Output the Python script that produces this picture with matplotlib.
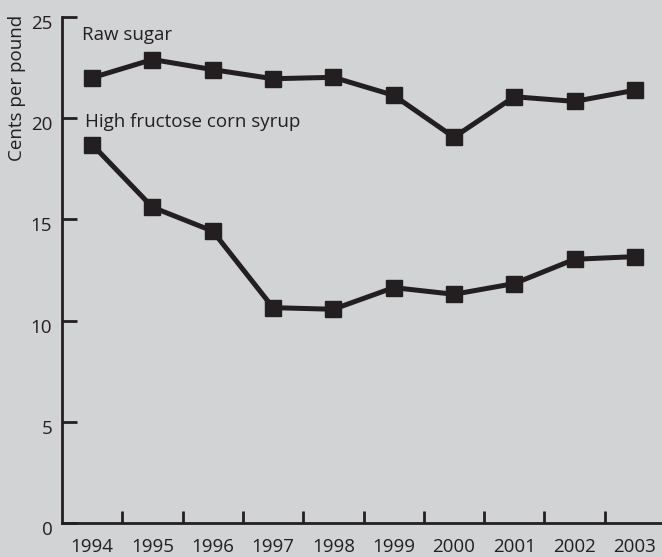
import numpy as np
import matplotlib.pyplot as plt
import matplotlib.transforms as mtransforms

years = ['1994', '1995', '1996', '1997', '1998', '1999', '2000', '2001', '2002', '2003']
raw_sugar = [22.0, 22.9, 22.4, 21.95, 22.02, 21.13, 19.06, 21.06, 20.83, 21.38]
hfcs = [18.7, 15.6, 14.42, 10.64, 10.56, 11.63, 11.3, 11.83, 13.03, 13.16]
y_ticks = [0, 5, 10, 15, 20, 25]

bg = '#d1d3d4'
ink = '#231f20'
plt.rcParams['font.family'] = ['Open Sans', 'DejaVu Sans']

fig = plt.figure(figsize=(6.62, 5.57), dpi=100, facecolor=bg)
ax = fig.add_axes([62 / 662, 34 / 557, 600 / 662, 506 / 557])
ax.set_facecolor(bg)

x = np.arange(len(years))
for vals in (raw_sugar, hfcs):
    ax.plot(x, vals, color=ink, lw=3.6, marker='s', ms=11, mfc=ink, mec=ink)

ax.set_xlim(-0.5, 9.45)
ax.set_ylim(0, 25)

ax.set_xticks(x)
ax.set_xticklabels(years)
ax.set_xticks(x[:-1] + 0.5, minor=True)
ax.tick_params(axis='x', which='major', length=0, pad=11, labelsize=13.5, colors=ink)
ax.tick_params(axis='x', which='minor', direction='in', length=8.5, width=2, color=ink)

ax.set_yticks(y_ticks)
ax.tick_params(axis='y', direction='in', length=11, width=2, pad=7, labelsize=13.5, colors=ink)
offset = mtransforms.ScaledTranslation(0, -5 / 100, fig.dpi_scale_trans)
for lbl in ax.get_yticklabels():
    lbl.set_transform(lbl.get_transform() + offset)

for side in ('top', 'right'):
    ax.spines[side].set_visible(False)
for side in ('left', 'bottom'):
    ax.spines[side].set_linewidth(2)
    ax.spines[side].set_color(ink)

ax.set_ylabel('Cents per pound', fontsize=13.5, color=ink)
ax.yaxis.set_label_coords(-0.06, 0.86)

ax.text(-0.17, 24.1, 'Raw sugar', fontsize=13.5, color=ink, va='center')
ax.text(-0.12, 19.8, 'High fructose corn syrup', fontsize=13.5, color=ink, va='center')

fig.savefig('out.png', dpi=100, facecolor=bg)
